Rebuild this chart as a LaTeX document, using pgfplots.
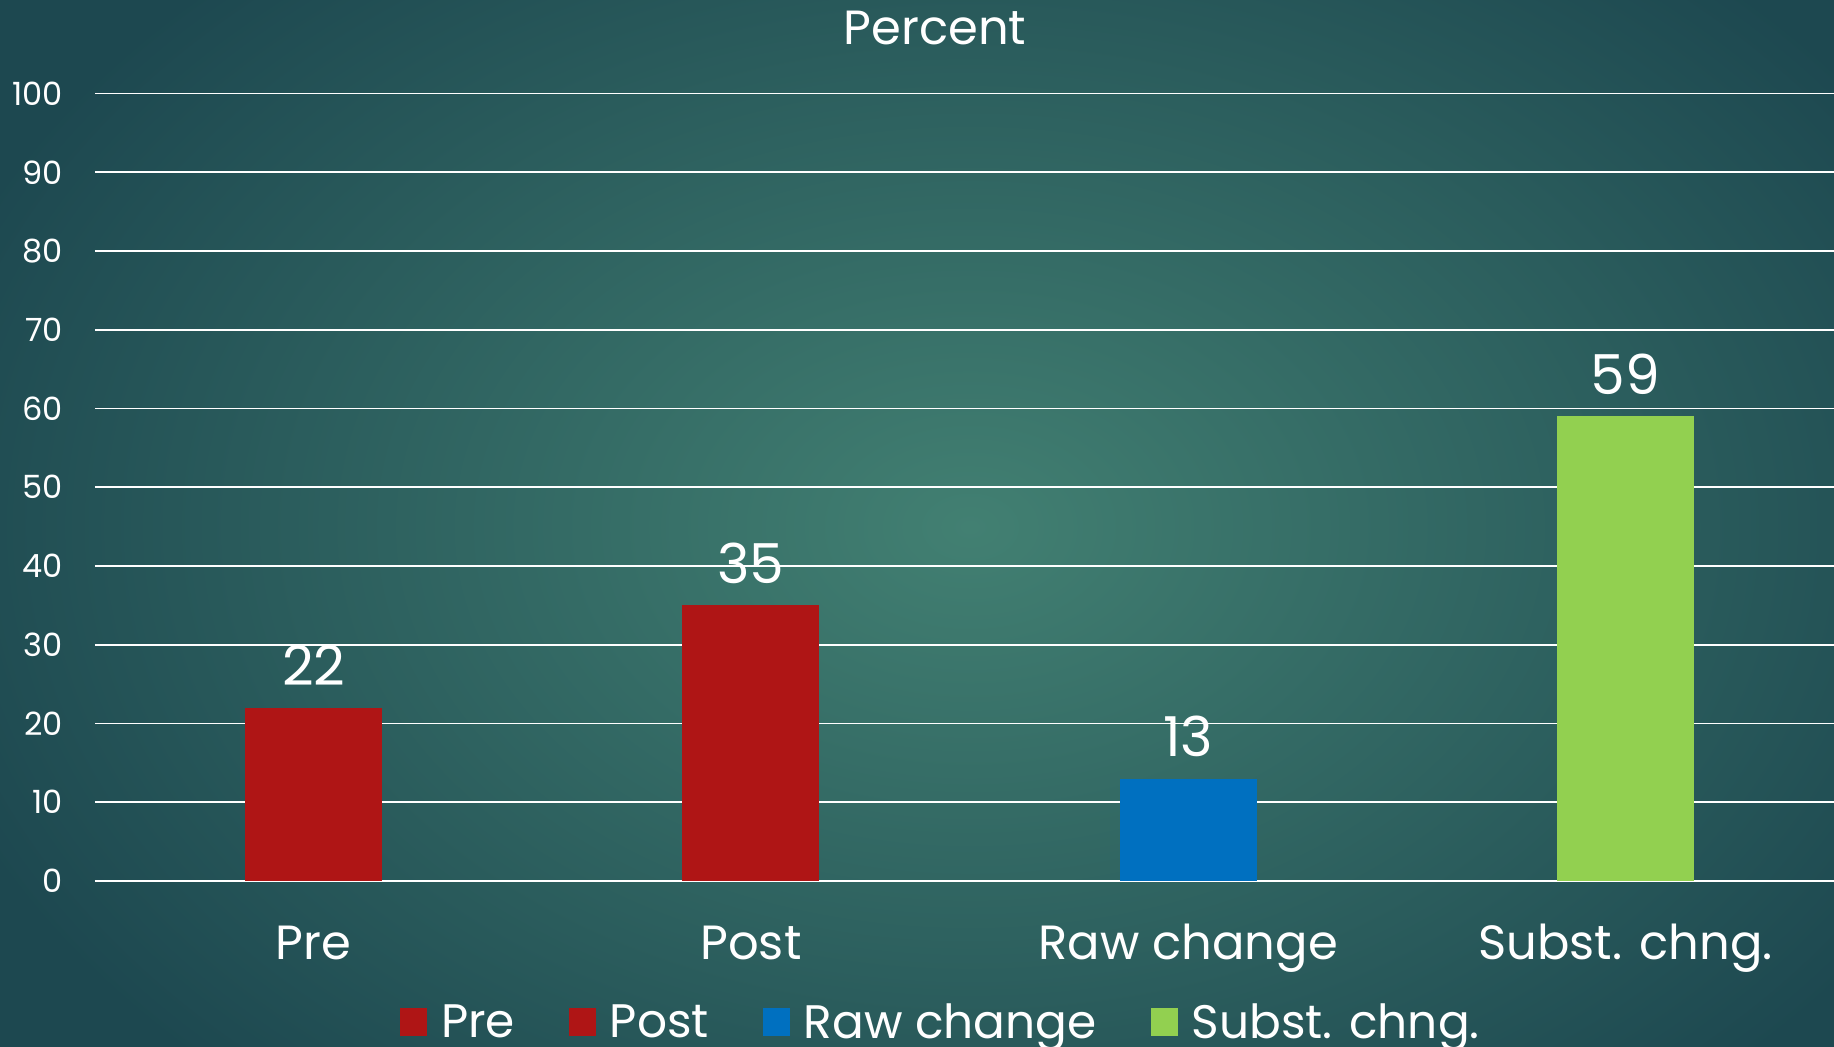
\documentclass[border=0pt]{standalone}
\usepackage{pgfplots}
\pgfplotsset{compat=1.18}
\usepackage{fontspec}
\setmainfont{Poppins}
\definecolor{bgin}{RGB}{66,128,114}
\definecolor{bgout}{RGB}{29,72,80}
\definecolor{barred}{RGB}{175,21,21}
\definecolor{barblue}{RGB}{0,112,192}
\definecolor{bargreen}{RGB}{146,208,80}
\begin{document}
\begin{tikzpicture}[x=1pt,y=1pt]
\useasboundingbox (0,0) rectangle (917,523.5);
\clip (0,0) rectangle (917,523.5);
\shade[inner color=bgin, outer color=bgout] (-60,-120) rectangle (1030,640);
\begin{axis}[
  at={(47.5pt,83pt)}, anchor=south west,
  scale only axis, width=874.6pt, height=393.75pt,
  xmin=-0.5, xmax=3.5, ymin=0, ymax=100,
  ytick={0,10,...,100},
  xtick={0,1,2,3},
  xticklabels={Pre,Post,Raw change,Subst. chng.},
  axis line style={draw=none},
  ymajorgrids, grid style={white, line width=0.8pt},
  major tick length=0pt,
  tick label style={white},
  /pgf/number format/assume math mode=true,
  yticklabel style={font=\fontsize{16}{16}\selectfont, anchor=east, inner sep=0pt, xshift=-16pt},
  xticklabel style={font=\fontsize{24}{24}\selectfont, anchor=base, inner sep=0pt, yshift=-39.5pt},
  ybar, bar width=68.5pt, bar shift=0pt,
  nodes near coords,
  every node near coord/.append style={font=\fontsize{27.5}{27.5}\selectfont, text=white, anchor=base, inner sep=0pt, yshift=11pt},
  legend columns=4,
  legend image code/.code={\fill[#1] (0pt,-7pt) rectangle (13.5pt,7pt);},
  legend style={draw=none, fill=none, at={(0.483,-0.2032)}, anchor=south,
    font=\fontsize{23.5}{23.5}\selectfont, text=white, inner sep=0pt, outer sep=0pt,
    nodes={inner sep=0pt},
    /tikz/every odd column/.append style={column sep=7pt},
    /tikz/every even column/.append style={column sep=27pt}},
]
\addplot[fill=barred, draw=none] coordinates {(0,22)};
\addlegendentry{Pre}
\addplot[fill=barred, draw=none] coordinates {(1,35)};
\addlegendentry{Post}
\addplot[fill=barblue, draw=none] coordinates {(2,13)};
\addlegendentry{Raw change}
\addplot[fill=bargreen, draw=none] coordinates {(3,59)};
\addlegendentry{Subst. chng.}
\end{axis}
\node[text=white, font=\fontsize{24}{24}\selectfont, anchor=base, inner sep=0pt] at (467.5,501) {Percent};
\end{tikzpicture}
\end{document}
